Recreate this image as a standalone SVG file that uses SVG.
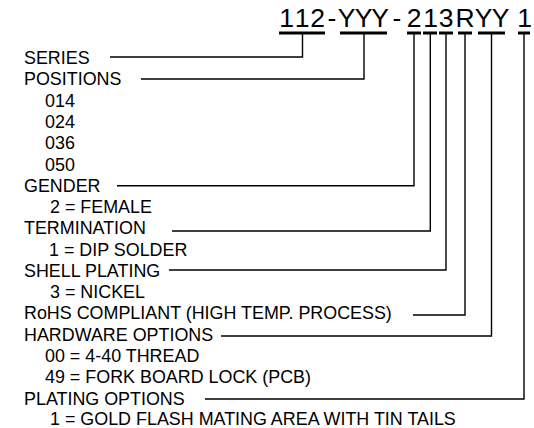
<svg xmlns="http://www.w3.org/2000/svg" width="534" height="428" viewBox="0 0 534 428">
<style>
  text { font-family: "Liberation Sans", Arial, sans-serif; fill: #000; }
  .lbl { font-size: 17.9px; }
  .title { font-size: 26.5px; }
  .bar { stroke: #000; stroke-width: 3; fill: none; }
  .conn { stroke: #000; stroke-width: 1.4; fill: none; }
</style>
<rect width="534" height="428" fill="#fff"/>
<g id="part-number">
  <text class="title" y="27" text-anchor="middle" x="286.5 302 317.5 332 346.5 363.5 380 397 414 430.5 446 465 483.5 500.5 524.5">112-YYY-213RYY1</text>
  <line class="bar" x1="279" y1="33" x2="325" y2="33"/>
  <line class="bar" x1="340" y1="33" x2="387" y2="33"/>
  <line class="bar" x1="407" y1="33" x2="421" y2="33"/>
  <line class="bar" x1="423" y1="33" x2="437" y2="33"/>
  <line class="bar" x1="439" y1="33" x2="453" y2="33"/>
  <line class="bar" x1="458" y1="33" x2="472" y2="33"/>
  <line class="bar" x1="478" y1="33" x2="505" y2="33"/>
  <line class="bar" x1="518" y1="33" x2="530" y2="33"/>
</g>
<g id="connectors">
  <polyline class="conn" points="302.5,33 302.5,57 110,57"/>
  <polyline class="conn" points="364,33 364,79 141,79"/>
  <polyline class="conn" points="414,33 414,185.7 117,185.7"/>
  <polyline class="conn" points="430.3,33 430.3,231 172,231"/>
  <polyline class="conn" points="446,33 446,270 169,270"/>
  <polyline class="conn" points="465,33 465,315 413,315"/>
  <polyline class="conn" points="491.5,33 491.5,336 221,336"/>
  <polyline class="conn" points="524,33 524,399 205,399"/>
</g>
<g id="series"><text class="lbl" x="24" y="64">SERIES</text></g>
<g id="positions">
  <text class="lbl" x="24" y="85.3">POSITIONS</text>
  <text class="lbl" x="45" y="106.6">014</text>
  <text class="lbl" x="45" y="127.9">024</text>
  <text class="lbl" x="45" y="149.2">036</text>
  <text class="lbl" x="45" y="170.5">050</text>
</g>
<g id="gender">
  <text class="lbl" x="24" y="191.8">GENDER</text>
  <text class="lbl" x="50" y="213.1">2 = FEMALE</text>
</g>
<g id="termination">
  <text class="lbl" x="24" y="234.4">TERMINATION</text>
  <text class="lbl" x="49" y="255.7">1 = DIP SOLDER</text>
</g>
<g id="shell-plating">
  <text class="lbl" x="24" y="277">SHELL PLATING</text>
  <text class="lbl" x="50" y="298.3">3 = NICKEL</text>
</g>
<g id="rohs"><text class="lbl" x="24" y="319.3">RoHS COMPLIANT (HIGH TEMP. PROCESS)</text></g>
<g id="hardware-options">
  <text class="lbl" x="24" y="340.6">HARDWARE OPTIONS</text>
  <text class="lbl" x="45" y="361.9">00 = 4-40 THREAD</text>
  <text class="lbl" x="45" y="383.2">49 = FORK BOARD LOCK (PCB)</text>
</g>
<g id="plating-options">
  <text class="lbl" x="24" y="404.5">PLATING OPTIONS</text>
  <text class="lbl" x="50" y="425.2">1 = GOLD FLASH MATING AREA WITH TIN TAILS</text>
</g>
</svg>
